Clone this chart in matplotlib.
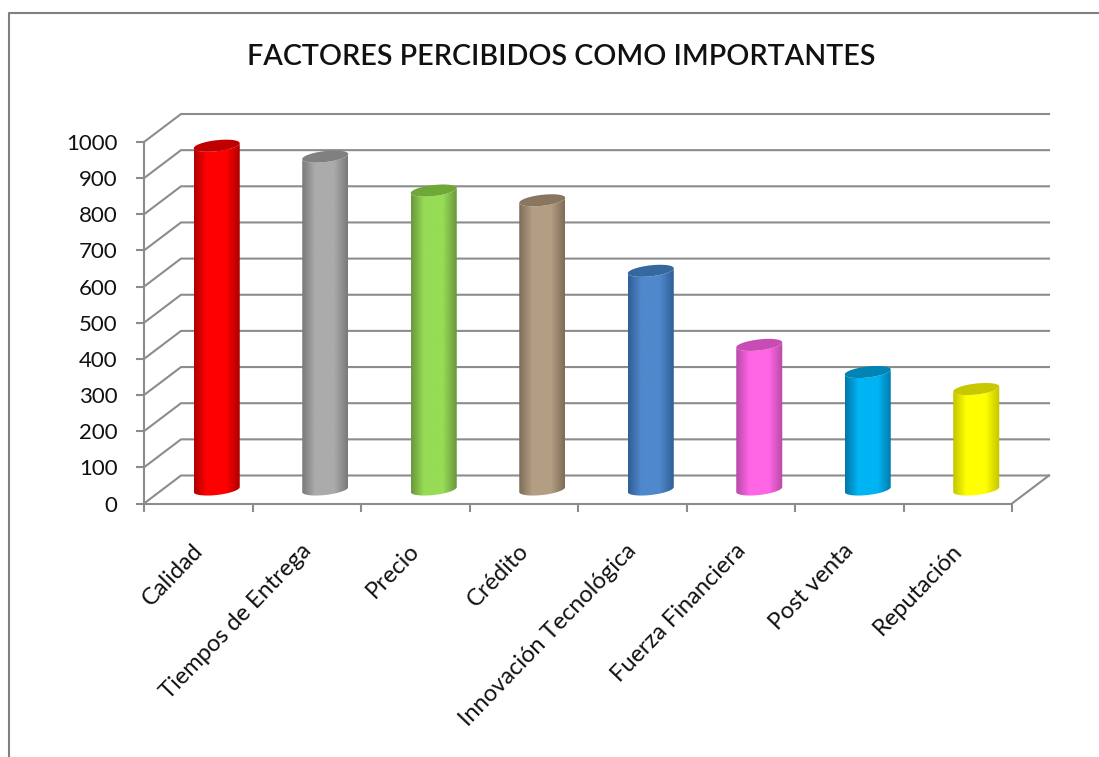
import numpy as np
import matplotlib
matplotlib.use('Agg')
import matplotlib.pyplot as plt
from matplotlib.colors import LinearSegmentedColormap
from matplotlib.lines import Line2D
from matplotlib.path import Path
from matplotlib.patches import PathPatch, Polygon

categorias = ['Calidad', 'Tiempos de Entrega', 'Precio', 'Crédito',
              'Innovación Tecnológica', 'Fuerza Financiera', 'Post venta', 'Reputación']
valores = [951, 921, 827, 800, 605, 400, 325, 278]
medio = ['#ff0000', '#ababab', '#96dc55', '#b39e84', '#5088cc', '#ff66e6', '#00b4f4', '#ffff00']
borde = ['#b00000', '#7a7a7a', '#6c983c', '#7f6d58', '#2f5f96', '#b84aa6', '#0078aa', '#c4c400']
tapa = ['#c00000', '#808080', '#70a838', '#8a7660', '#34689e', '#c84cb4', '#0084b4', '#c8c800']
yticks = list(range(0, 1001, 100))

plt.rcParams['font.family'] = ['Lato', 'DejaVu Sans']
gris = '#8c8c8c'
W, H = 1099, 757

fig = plt.figure(figsize=(W / 100, H / 100), dpi=100)
ax = fig.add_axes([144 / W, 1 - 503.5 / H, 868 / W, 361.5 / H])
ax.set_facecolor('none')

# profundidad del grafico 3d, en unidades de datos
px_x = 868 / 8
px_y = 361.5 / 1000
dx = 37 / px_x
dy = 28 / px_y

for v in yticks:
    ax.plot([0, dx, 8 + dx], [v, v + dy, v + dy], color=gris, lw=1.5, clip_on=False, zorder=1)
ax.plot([8, 8 + dx], [0, dy], color=gris, lw=1.5, clip_on=False, zorder=1)

ancho = 46 / px_x
b = 5.5 / px_y
s = 2.5 / px_y
t = np.linspace(0, 2 * np.pi, 80)


def elipse(xc, yc, ang):
    return np.column_stack([xc + ancho / 2 * np.cos(ang), yc + b * np.sin(ang) + s * np.cos(ang)])


for i in range(len(valores)):
    xc = i + 0.5 + dx / 2
    y0 = dy / 2
    y1 = valores[i] + dy / 2
    abajo = elipse(xc, y0, np.linspace(2 * np.pi, np.pi, 40))
    arriba = elipse(xc, y1, np.linspace(np.pi, 2 * np.pi, 40))
    cuerpo = np.vstack([abajo, arriba, abajo[:1]])
    clip = PathPatch(Path(cuerpo), transform=ax.transData, facecolor='none', edgecolor='none')
    ax.add_patch(clip)
    cmap = LinearSegmentedColormap.from_list('c', [(0, borde[i]), (0.28, medio[i]),
                                                   (0.7, medio[i]), (1, borde[i])])
    im = ax.imshow(np.linspace(0, 1, 64).reshape(1, -1), cmap=cmap, aspect='auto', zorder=3,
                   extent=[xc - ancho / 2, xc + ancho / 2, 0, y1 + 40])
    im.set_clip_path(clip)
    ax.add_patch(Polygon(elipse(xc, y1, t), closed=True, facecolor=tapa[i], edgecolor='none',
                         zorder=4, clip_on=False))

ax.set_xlim(0, 8)
ax.set_ylim(0, 1000)
ax.spines['top'].set_visible(False)
ax.spines['right'].set_visible(False)
for lado in ['left', 'bottom']:
    ax.spines[lado].set_color(gris)
    ax.spines[lado].set_linewidth(1.5)

ax.set_yticks(yticks)
ax.tick_params(axis='y', length=6, width=1.5, color=gris, labelsize=16, pad=13, labelcolor='#111111')
ax.set_xticks(range(9))
ax.set_xticklabels([])
ax.tick_params(axis='x', length=6, width=1.5, color=gris)

for i in range(len(categorias)):
    ax.annotate(categorias[i], (i + 0.5, 0), xytext=(1, -44), textcoords='offset pixels',
                rotation=46, ha='right', va='center', rotation_mode='anchor',
                fontsize=17, color='#111111', annotation_clip=False)

fig.text(561.5 / W, 1 - 57 / H, 'FACTORES PERCIBIDOS COMO IMPORTANTES', ha='center', va='center',
         fontsize=20.6, color='#111111', weight='semibold')

# marco de la imagen
fig.add_artist(Line2D([9 / W, 9 / W, 1], [0, 1 - 13 / H, 1 - 13 / H], color='#808080', lw=1.5))

fig.savefig('out.png', dpi=100)
